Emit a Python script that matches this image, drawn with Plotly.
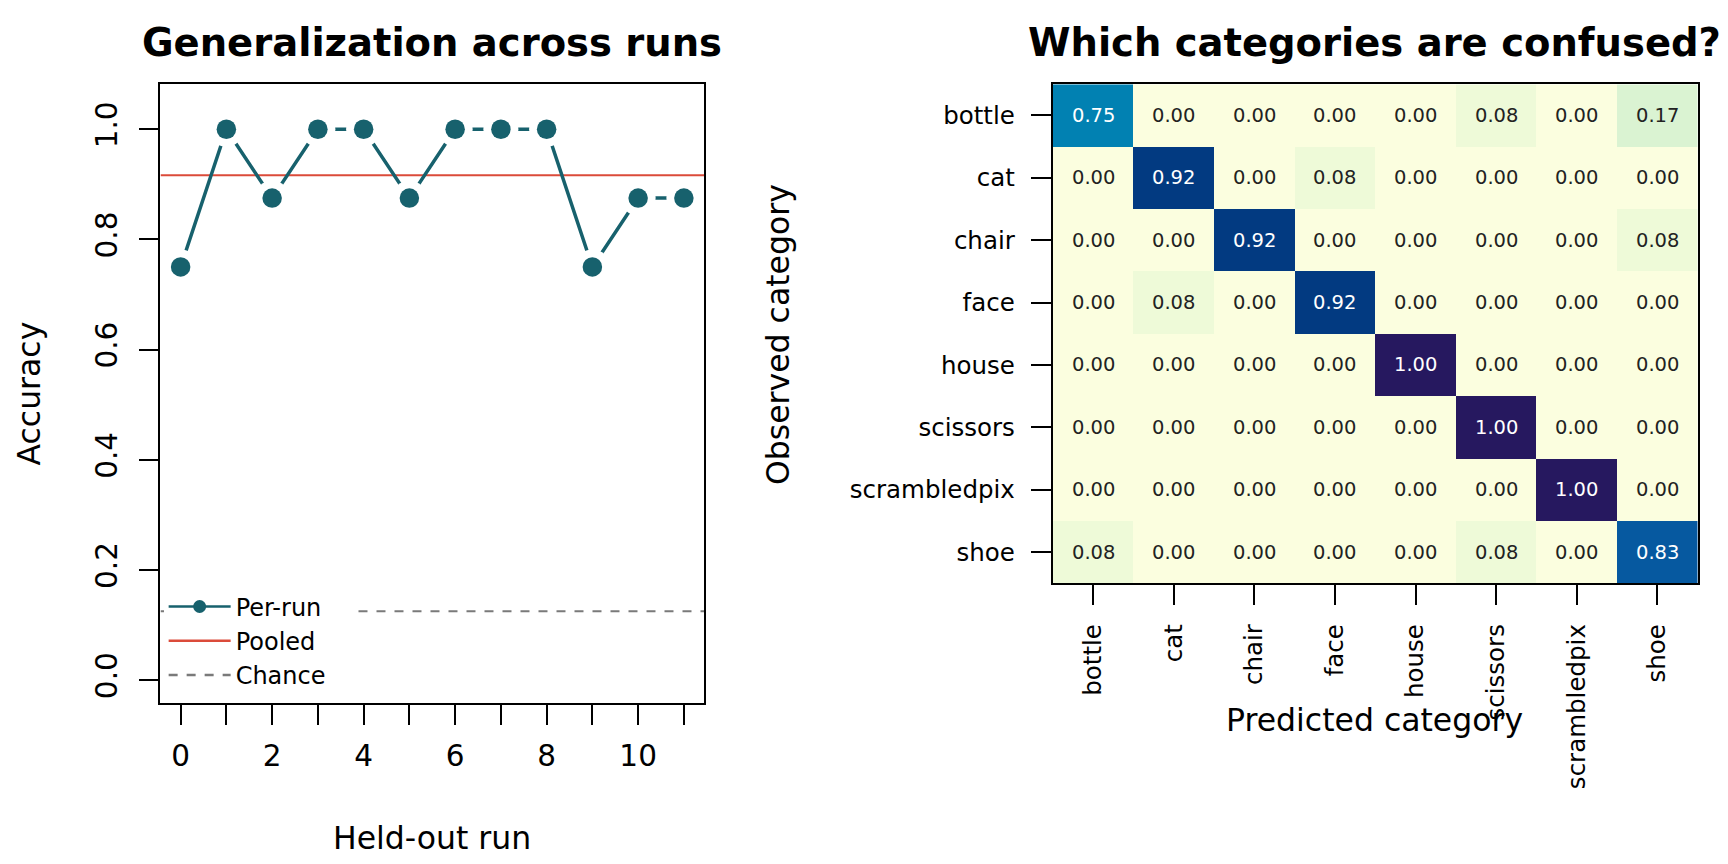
import plotly.graph_objects as go

# ---- data ----
runs = list(range(12))
run_acc = [0.75, 1.0, 0.875, 1.0, 1.0, 0.875, 1.0, 1.0, 1.0, 0.75, 0.875, 0.875]
pooled_acc = 11 / 12
chance_level = 1 / 8
x_tick_vals = list(range(12))
x_tick_text = ["0", "", "2", "", "4", "", "6", "", "8", "", "10", ""]
y_tick_vals = [0.0, 0.2, 0.4, 0.6, 0.8, 1.0]
y_tick_text = ["0.0", "0.2", "0.4", "0.6", "0.8", "1.0"]
legend_names = ["Per-run", "Pooled", "Chance"]

categories = ["bottle", "cat", "chair", "face", "house", "scissors", "scrambledpix", "shoe"]
confusion = [
    [0.75, 0.00, 0.00, 0.00, 0.00, 0.08, 0.00, 0.17],
    [0.00, 0.92, 0.00, 0.08, 0.00, 0.00, 0.00, 0.00],
    [0.00, 0.00, 0.92, 0.00, 0.00, 0.00, 0.00, 0.08],
    [0.00, 0.08, 0.00, 0.92, 0.00, 0.00, 0.00, 0.00],
    [0.00, 0.00, 0.00, 0.00, 1.00, 0.00, 0.00, 0.00],
    [0.00, 0.00, 0.00, 0.00, 0.00, 1.00, 0.00, 0.00],
    [0.00, 0.00, 0.00, 0.00, 0.00, 0.00, 1.00, 0.00],
    [0.08, 0.00, 0.00, 0.00, 0.00, 0.08, 0.00, 0.83],
]

FONT = "DejaVu Sans"
TEAL = "#17616D"
RED = "#DB4B3A"
GREY = "#7A7A7A"

colorscale = [
    [0.0, "#FBFEDF"],
    [0.08, "#EEFAD8"],
    [0.17, "#DAF3D2"],
    [0.45, "#6CC3B4"],
    [0.75, "#0181B2"],
    [0.83, "#0659A0"],
    [0.92, "#023A81"],
    [1.0, "#26185F"],
]

fig = go.Figure()

# pooled line
fig.add_trace(go.Scatter(
    x=[runs[0] - 0.44, runs[-1] + 0.44], y=[pooled_acc, pooled_acc], mode="lines",
    line=dict(color=RED, width=2), showlegend=False, xaxis="x", yaxis="y", hoverinfo="skip"))
# chance line
fig.add_trace(go.Scatter(
    x=[runs[0] - 0.44, runs[-1] + 0.44], y=[chance_level, chance_level], mode="lines",
    line=dict(color=GREY, width=2, dash="dash"), showlegend=False, xaxis="x", yaxis="y", hoverinfo="skip"))
# per-run line with white gaps around points (R type="b")
fig.add_trace(go.Scatter(
    x=runs, y=run_acc, mode="lines+markers",
    line=dict(color=TEAL, width=3.5),
    marker=dict(size=35, color="white", line=dict(width=0)),
    showlegend=False, xaxis="x", yaxis="y"))
fig.add_trace(go.Scatter(
    x=runs, y=run_acc, mode="markers",
    marker=dict(size=19.5, color=TEAL, line=dict(width=0)),
    showlegend=False, xaxis="x", yaxis="y"))
# legend entries
pad = "\u00a0\u00a0\u00a0"
fig.add_trace(go.Scatter(x=[None], y=[None], mode="lines+markers", name=legend_names[0] + pad,
                         line=dict(color=TEAL, width=2.5), marker=dict(size=13, color=TEAL),
                         xaxis="x", yaxis="y"))
fig.add_trace(go.Scatter(x=[None], y=[None], mode="lines", name=legend_names[1],
                         line=dict(color=RED, width=2.5), xaxis="x", yaxis="y"))
fig.add_trace(go.Scatter(x=[None], y=[None], mode="lines", name=legend_names[2],
                         line=dict(color=GREY, width=2.5, dash="dash"), xaxis="x", yaxis="y"))

# heatmap
fig.add_trace(go.Heatmap(
    z=confusion, x=categories, y=categories, colorscale=colorscale, zmin=0, zmax=1,
    showscale=False, xaxis="x2", yaxis="y2", xgap=0, ygap=0))

annotations = []
for i, row_name in enumerate(categories):
    for j, col_name in enumerate(categories):
        v = confusion[i][j]
        annotations.append(dict(
            x=col_name, y=row_name, xref="x2", yref="y2", text=f"{v:.2f}", showarrow=False,
            font=dict(family=FONT, size=19.5, color="white" if v > 0.5 else "#222222")))

annotations += [
    dict(x=0.25, y=0.951, xref="paper", yref="paper", text="<b>Generalization across runs</b>",
         showarrow=False, font=dict(family=FONT, size=38.5, color="black"), xanchor="center", yanchor="middle"),
    dict(x=0.7957, y=0.951, xref="paper", yref="paper", text="<b>Which categories are confused?</b>",
         showarrow=False, font=dict(family=FONT, size=38.5, color="black"), xanchor="center", yanchor="middle"),
    dict(x=0.25, y=0.030, xref="paper", yref="paper", text="Held-out run",
         showarrow=False, font=dict(family=FONT, size=31.5, color="black"), xanchor="center", yanchor="middle"),
    dict(x=0.0165, y=0.544, xref="paper", yref="paper", text="Accuracy", textangle=-90,
         showarrow=False, font=dict(family=FONT, size=31.5, color="black"), xanchor="center", yanchor="middle"),
    dict(x=0.7957, y=0.1667, xref="paper", yref="paper", text="Predicted category",
         showarrow=False, font=dict(family=FONT, size=31.5, color="black"), xanchor="center", yanchor="middle"),
    dict(x=0.4502, y=0.6134, xref="paper", yref="paper", text="Observed category", textangle=-90,
         showarrow=False, font=dict(family=FONT, size=31.5, color="black"), xanchor="center", yanchor="middle"),
]

fig.update_layout(
    width=1728, height=864,
    margin=dict(l=0, r=0, t=0, b=0),
    paper_bgcolor="white", plot_bgcolor="white",
    font=dict(family=FONT, color="black"),
    showlegend=True,
    legend=dict(x=0.0947, y=0.3236, xanchor="left", yanchor="top", bgcolor="white",
                font=dict(family=FONT, size=24, color="black"), tracegroupgap=0,
                itemwidth=62, borderwidth=0),
    annotations=annotations,
    xaxis=dict(domain=[0.09288, 0.40741], range=[-0.44, 11.44], showgrid=False, zeroline=False,
               showline=True, mirror=True, linecolor="black", linewidth=1.5,
               tickmode="array", tickvals=x_tick_vals, ticktext=x_tick_text,
               ticks="outside", ticklen=20, tickwidth=1.5, tickcolor="black",
               tickfont=dict(family=FONT, size=29.5), ticklabelstandoff=6, anchor="y"),
    yaxis=dict(domain=[0.18634, 0.90243], range=[-0.0416, 1.0816], showgrid=False, zeroline=False,
               showline=True, mirror=True, linecolor="black", linewidth=1.5,
               tickmode="array", tickvals=y_tick_vals, ticktext=y_tick_text,
               ticks="outside", ticklen=20, tickwidth=1.5, tickcolor="black", tickangle=-90,
               tickfont=dict(family=FONT, size=29.5), ticklabelstandoff=10, anchor="x"),
    xaxis2=dict(domain=[0.60920, 0.98247], showgrid=False, zeroline=False,
                showline=True, mirror=True, linecolor="black", linewidth=2,
                ticks="outside", ticklen=20, tickwidth=1.5, tickcolor="black", tickangle=-90,
                tickfont=dict(family=FONT, size=24.5), ticklabelstandoff=9, anchor="y2"),
    yaxis2=dict(domain=[0.32488, 0.90243], autorange="reversed", showgrid=False, zeroline=False,
                showline=True, mirror=True, linecolor="black", linewidth=2,
                ticks="outside", ticklen=20, tickwidth=1.5, tickcolor="black",
                tickfont=dict(family=FONT, size=24.5), ticklabelstandoff=11, anchor="x2"),
)

fig.write_html("out.html", post_script="document.body.style.margin='0';",
               config={"displayModeBar": False})
